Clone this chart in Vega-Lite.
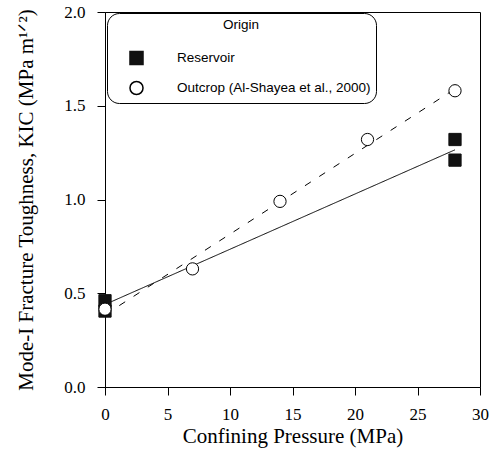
{
  "$schema": "https://vega.github.io/schema/vega-lite/v6.json",
  "width": 375,
  "height": 375,
  "autosize": "none",
  "padding": {"left": 105, "top": 12, "right": 9, "bottom": 64},
  "background": "white",
  "config": {
    "view": {"stroke": "black", "strokeWidth": 1},
    "axis": {
      "domainColor": "black",
      "tickColor": "black",
      "labelColor": "black",
      "titleColor": "black",
      "labelFont": "Liberation Serif",
      "titleFont": "Liberation Serif",
      "labelFontSize": 17,
      "titleFontSize": 21,
      "titleFontWeight": "normal",
      "grid": false
    },
    "legend": {
      "orient": "none",
      "legendX": 2,
      "legendY": 1,
      "strokeColor": "black",
      "strokeWidth": 1,
      "cornerRadius": 12,
      "padding": 5,
      "fillColor": "white",
      "titleAnchor": "middle",
      "titleFont": "Liberation Sans",
      "titleFontSize": 13.5,
      "titleFontWeight": "normal",
      "titleColor": "black",
      "titlePadding": 19,
      "labelFont": "Liberation Sans",
      "labelFontSize": 13.5,
      "labelColor": "black",
      "labelLimit": 400,
      "labelOffset": 33,
      "symbolOffset": 17,
      "rowPadding": 9,
      "symbolSize": 170
    }
  },
  "datasets": {
    "points": [
      {"pressure": 0, "kic": 0.46, "Origin": "Reservoir"},
      {"pressure": 0, "kic": 0.405, "Origin": "Reservoir"},
      {"pressure": 28, "kic": 1.32, "Origin": "Reservoir"},
      {"pressure": 28, "kic": 1.21, "Origin": "Reservoir"},
      {"pressure": 0, "kic": 0.415, "Origin": "Outcrop (Al-Shayea et al., 2000)"},
      {"pressure": 7, "kic": 0.63, "Origin": "Outcrop (Al-Shayea et al., 2000)"},
      {"pressure": 14, "kic": 0.99, "Origin": "Outcrop (Al-Shayea et al., 2000)"},
      {"pressure": 21, "kic": 1.32, "Origin": "Outcrop (Al-Shayea et al., 2000)"},
      {"pressure": 28, "kic": 1.58, "Origin": "Outcrop (Al-Shayea et al., 2000)"}
    ],
    "lines": [
      {"pressure": 0, "kic": 0.44, "fit": "Reservoir"},
      {"pressure": 28, "kic": 1.265, "fit": "Reservoir"},
      {"pressure": 0, "kic": 0.385, "fit": "Outcrop"},
      {"pressure": 28, "kic": 1.59, "fit": "Outcrop"}
    ]
  },
  "layer": [
    {
      "data": {"name": "lines"},
      "mark": {"type": "line", "color": "black", "strokeWidth": 1},
      "encoding": {
        "x": {
          "field": "pressure", "type": "quantitative",
          "scale": {"domain": [0, 30], "nice": false, "zero": false},
          "axis": {
            "orient": "bottom",
            "title": "Confining Pressure (MPa)",
            "values": [0, 5, 10, 15, 20, 25, 30],
            "format": "d",
            "tickSize": 8,
            "labelPadding": 11,
            "titlePadding": 3,
            "labelFlush": false,
            "labelOverlap": false
          }
        },
        "y": {
          "field": "kic", "type": "quantitative",
          "scale": {"domain": [0, 2], "nice": false},
          "axis": {
            "orient": "left",
            "title": "Mode-I Fracture Toughness, KIC (MPa m\u00b9\u141f\u00b2)",
            "values": [0, 0.5, 1, 1.5, 2],
            "format": ".1f",
            "tickSize": 8,
            "labelPadding": 12,
            "titlePadding": 27,
            "labelFlush": false,
            "labelOverlap": false
          }
        },
        "strokeDash": {
          "field": "fit", "type": "nominal",
          "scale": {"domain": ["Reservoir", "Outcrop"], "range": [[1, 0], [7, 10]]},
          "legend": null
        }
      }
    },
    {
      "data": {"name": "points"},
      "mark": {"type": "point", "strokeWidth": 1, "opacity": 1, "size": 150},
      "encoding": {
        "x": {"field": "pressure", "type": "quantitative"},
        "y": {"field": "kic", "type": "quantitative"},
        "shape": {
          "field": "Origin", "type": "nominal",
          "scale": {"domain": ["Reservoir", "Outcrop (Al-Shayea et al., 2000)"], "range": ["square", "circle"]},
          "legend": {"title": "Origin"}
        },
        "fill": {
          "field": "Origin", "type": "nominal",
          "scale": {"domain": ["Reservoir", "Outcrop (Al-Shayea et al., 2000)"], "range": ["#111111", "white"]},
          "legend": {"title": "Origin"}
        },
        "stroke": {
          "field": "Origin", "type": "nominal",
          "scale": {"domain": ["Reservoir", "Outcrop (Al-Shayea et al., 2000)"], "range": ["#111111", "black"]},
          "legend": {"title": "Origin"}
        }
      }
    }
  ]
}
